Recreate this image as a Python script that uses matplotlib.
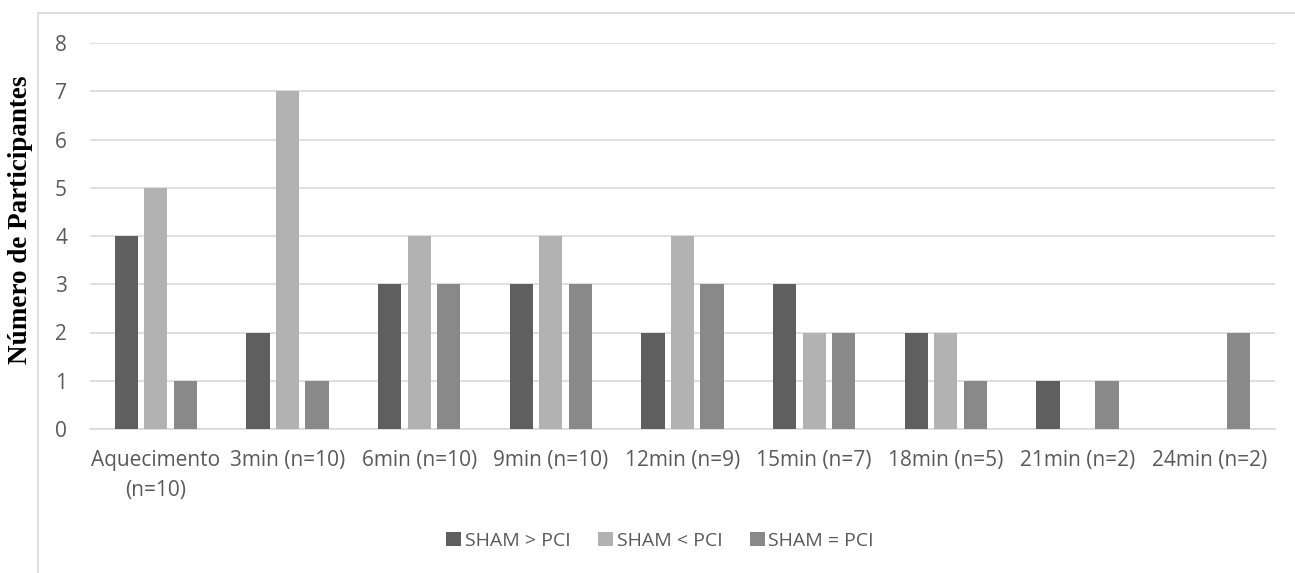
import matplotlib
matplotlib.use("Agg")
import matplotlib.pyplot as plt
from matplotlib.patches import Rectangle
import numpy as np

categories = ["Aquecimento\n(n=10)", "3min (n=10)", "6min (n=10)", "9min (n=10)",
              "12min (n=9)", "15min (n=7)", "18min (n=5)", "21min (n=2)", "24min (n=2)"]
sham_gt = [4, 2, 3, 3, 2, 3, 2, 1, 0]
sham_lt = [5, 7, 4, 4, 4, 2, 2, 0, 0]
sham_eq = [1, 1, 3, 3, 3, 2, 1, 1, 2]
series_names = ["SHAM > PCI", "SHAM < PCI", "SHAM = PCI"]
colors = ["#5f5f5f", "#b2b2b2", "#898989"]
yticks = [0, 1, 2, 3, 4, 5, 6, 7, 8]

W, H = 1295, 573
fig = plt.figure(figsize=(W / 100, H / 100), dpi=100)
ax = fig.add_axes([90 / W, 1 - 429 / H, (1275 - 90) / W, (429 - 43) / H])

# outer chart border
fig.patches.append(Rectangle((38 / W, -0.05), 1.2, 1 - 13 / H + 0.05,
                             transform=fig.transFigure, fill=False,
                             edgecolor="#d9d9d9", linewidth=1.2, zorder=0))

x = np.arange(len(categories))
bw = 0.175
step = 0.224
for i, (vals, c, name) in enumerate(zip([sham_gt, sham_lt, sham_eq], colors, series_names)):
    ax.bar(x + (i - 1) * step, vals, width=bw, color=c, label=name, zorder=3)

ax.set_xlim(-0.5, len(categories) - 0.5)
ax.set_ylim(0, 8)
ax.set_yticks(yticks)
ax.yaxis.grid(True, color="#d9d9d9", linewidth=1.2, zorder=0)
ax.set_axisbelow(True)
for s in ["top", "right", "left"]:
    ax.spines[s].set_visible(False)
ax.spines["bottom"].set_color("#d9d9d9")
ax.spines["bottom"].set_linewidth(1.2)
ax.tick_params(axis="both", length=0, labelsize=15, colors="#595959")
ax.tick_params(axis="y", pad=16.5)
ax.tick_params(axis="x", pad=15)
ax.set_xticks(x)
ax.set_xticklabels(categories, fontfamily="Open Sans", color="#595959",
                   linespacing=1.55)
for lab in ax.get_yticklabels():
    lab.set_fontfamily("Open Sans")

fig.text(21 / W, 1 - 220 / H, "Número de Participantes", rotation=90,
         ha="center", va="center", fontsize=19.5, fontweight="bold",
         fontfamily="Liberation Serif", color="black")

leg = fig.legend(loc="center", bbox_to_anchor=(660 / W, 1 - 541 / H), ncol=3,
                 frameon=False, handlelength=0.77, handleheight=0.77,
                 columnspacing=1.4, handletextpad=0.2,
                 prop={"family": "Open Sans", "size": 14})
for t in leg.get_texts():
    t.set_color("#595959")

fig.savefig("out.png", dpi=100)
